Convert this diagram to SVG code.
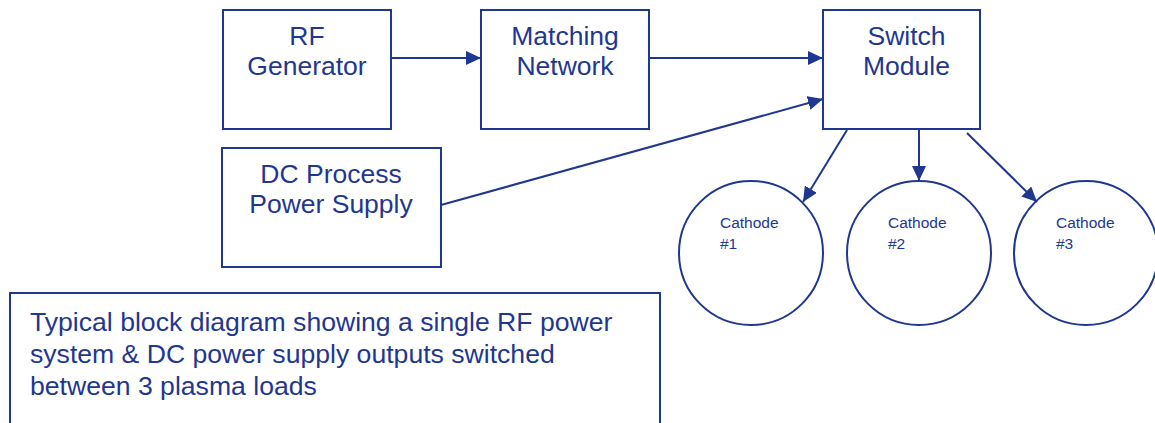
<svg xmlns="http://www.w3.org/2000/svg" width="1155" height="423" viewBox="0 0 1155 423">
<style>
.b{fill:#fff;stroke:#1f3791;stroke-width:2}
.t{font-family:"Liberation Sans",Arial,sans-serif;fill:#1f3791;font-size:26.5px;text-anchor:middle}
.n{font-family:"Liberation Sans",Arial,sans-serif;fill:#1f3791;font-size:26.6px}
.s{font-family:"Liberation Sans",Arial,sans-serif;fill:#1f3791;font-size:15.5px}
.c{stroke:#1f3791;stroke-width:2;fill:none;marker-end:url(#a)}
</style>
<defs><marker id="a" viewBox="0 0 15 14" refX="15" refY="7" markerWidth="15" markerHeight="14" orient="auto" markerUnits="userSpaceOnUse"><path d="M0,0L15,7L0,14z" fill="#1f3791"/></marker></defs>
<g id="rf"><rect class="b" x="223" y="10" width="168" height="119"/><text class="t" x="307" y="45">RF</text><text class="t" x="307" y="75">Generator</text></g>
<g id="mn"><rect class="b" x="481" y="10" width="168" height="119"/><text class="t" x="565" y="45">Matching</text><text class="t" x="565" y="75">Network</text></g>
<g id="sw"><rect class="b" x="823" y="10" width="157" height="119"/><text class="t" x="906.5" y="45">Switch</text><text class="t" x="906.5" y="75">Module</text></g>
<g id="dc"><rect class="b" x="222" y="148" width="219" height="119"/><text class="t" x="331" y="183">DC Process</text><text class="t" x="331" y="213">Power Supply</text></g>
<g id="c1"><circle class="b" cx="751" cy="253" r="72"/><text class="s" x="720" y="228">Cathode</text><text class="s" x="720" y="249">#1</text></g>
<g id="c2"><circle class="b" cx="919" cy="253" r="72"/><text class="s" x="888" y="228">Cathode</text><text class="s" x="888" y="249">#2</text></g>
<g id="c3"><circle class="b" cx="1086" cy="253" r="72"/><text class="s" x="1056" y="228">Cathode</text><text class="s" x="1056" y="249">#3</text></g>
<g id="note"><rect class="b" x="10" y="293" width="650" height="140"/><text class="n" x="30" y="331">Typical block diagram showing a single RF power</text><text class="n" x="30" y="363">system &amp; DC power supply outputs switched</text><text class="n" x="30" y="395">between 3 plasma loads</text></g>
<g id="connectors">
<line class="c" x1="391" y1="58" x2="481" y2="58"/>
<line class="c" x1="649" y1="58" x2="823" y2="58"/>
<line class="c" x1="441" y1="205" x2="823" y2="99"/>
<line class="c" x1="847" y1="130" x2="803" y2="202"/>
<line class="c" x1="919" y1="130" x2="919" y2="181"/>
<line class="c" x1="967" y1="133" x2="1037" y2="202"/>
</g>
</svg>
